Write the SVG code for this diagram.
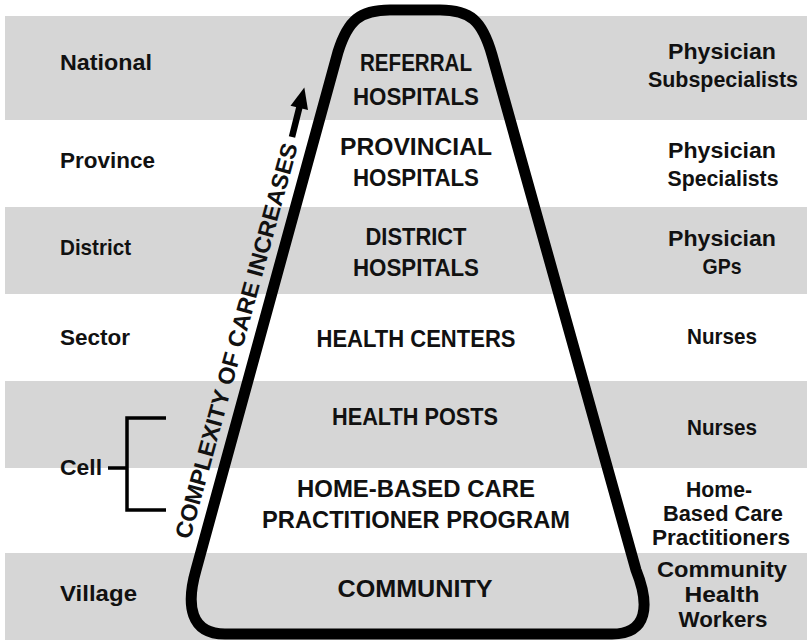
<svg xmlns="http://www.w3.org/2000/svg" width="807" height="642" viewBox="0 0 807 642">
  <style>
    .band { fill: #d6d6d6; }
    .tier { font-family: "Liberation Sans", Arial, sans-serif; font-weight: bold; font-size: 24px; fill: #111; text-anchor: middle; }
    .level { font-family: "Liberation Sans", Arial, sans-serif; font-weight: bold; font-size: 22.5px; fill: #111; }
    .staff { font-family: "Liberation Sans", Arial, sans-serif; font-weight: bold; font-size: 22px; fill: #111; text-anchor: middle; }
    .axis { font-family: "Liberation Sans", Arial, sans-serif; font-weight: bold; font-size: 23px; fill: #111; }
    .outline { fill: none; stroke: #000; stroke-width: 11; stroke-linejoin: round; }
    .bracket { fill: none; stroke: #000; stroke-width: 3.5; }
  </style>

  <rect x="0" y="0" width="807" height="642" fill="#ffffff"/>

  <!-- alternating level bands -->
  <g id="bands">
    <rect class="band" x="5" y="16" width="802" height="104"/>
    <rect class="band" x="5" y="207" width="802" height="87"/>
    <rect class="band" x="5" y="381" width="802" height="87"/>
    <rect class="band" x="5" y="553" width="802" height="87"/>
  </g>

  <!-- pyramid outline -->
  <g id="pyramid">
    <path class="outline" d="M 338 52 L 196 570 C 186 605 190 634 225 634 L 612 634 C 648 634 650 605 636 570 L 492 55 C 482 20 470 10 440 10 L 390 10 C 360 10 348 20 338 52 Z"/>
  </g>

  <!-- tiers of care -->
  <g id="tier-referral">
    <text class="tier" x="416" y="71" textLength="112" lengthAdjust="spacingAndGlyphs">REFERRAL</text>
    <text class="tier" x="416" y="105" textLength="126" lengthAdjust="spacingAndGlyphs">HOSPITALS</text>
  </g>
  <g id="tier-provincial">
    <text class="tier" x="416" y="155" textLength="152" lengthAdjust="spacingAndGlyphs">PROVINCIAL</text>
    <text class="tier" x="416" y="186" textLength="126" lengthAdjust="spacingAndGlyphs">HOSPITALS</text>
  </g>
  <g id="tier-district">
    <text class="tier" x="416" y="245" textLength="101" lengthAdjust="spacingAndGlyphs">DISTRICT</text>
    <text class="tier" x="416" y="276" textLength="126" lengthAdjust="spacingAndGlyphs">HOSPITALS</text>
  </g>
  <g id="tier-health-centers">
    <text class="tier" x="416" y="347" textLength="199" lengthAdjust="spacingAndGlyphs">HEALTH CENTERS</text>
  </g>
  <g id="tier-health-posts">
    <text class="tier" x="415" y="425" textLength="166" lengthAdjust="spacingAndGlyphs">HEALTH POSTS</text>
  </g>
  <g id="tier-home-based">
    <text class="tier" x="416" y="497" textLength="238" lengthAdjust="spacingAndGlyphs">HOME-BASED CARE</text>
    <text class="tier" x="416" y="528" textLength="308" lengthAdjust="spacingAndGlyphs">PRACTITIONER PROGRAM</text>
  </g>
  <g id="tier-community">
    <text class="tier" x="415" y="597" textLength="155" lengthAdjust="spacingAndGlyphs">COMMUNITY</text>
  </g>

  <!-- administrative levels -->
  <g id="level-national"><text class="level" x="60" y="70" textLength="92" lengthAdjust="spacingAndGlyphs">National</text></g>
  <g id="level-province"><text class="level" x="60" y="168" textLength="95" lengthAdjust="spacingAndGlyphs">Province</text></g>
  <g id="level-district"><text class="level" x="60" y="255" textLength="71" lengthAdjust="spacingAndGlyphs">District</text></g>
  <g id="level-sector"><text class="level" x="60" y="345" textLength="70" lengthAdjust="spacingAndGlyphs">Sector</text></g>
  <g id="level-cell"><text class="level" x="60" y="475" textLength="42" lengthAdjust="spacingAndGlyphs">Cell</text></g>
  <g id="level-village"><text class="level" x="60" y="601" textLength="77" lengthAdjust="spacingAndGlyphs">Village</text></g>

  <!-- staffing per tier -->
  <g id="staff-subspecialists">
    <text class="staff" x="722" y="59" textLength="108" lengthAdjust="spacingAndGlyphs">Physician</text>
    <text class="staff" x="723" y="87" textLength="150" lengthAdjust="spacingAndGlyphs">Subspecialists</text>
  </g>
  <g id="staff-specialists">
    <text class="staff" x="722" y="158" textLength="108" lengthAdjust="spacingAndGlyphs">Physician</text>
    <text class="staff" x="723" y="186" textLength="111" lengthAdjust="spacingAndGlyphs">Specialists</text>
  </g>
  <g id="staff-gps">
    <text class="staff" x="722" y="246" textLength="108" lengthAdjust="spacingAndGlyphs">Physician</text>
    <text class="staff" x="722" y="274" textLength="39" lengthAdjust="spacingAndGlyphs">GPs</text>
  </g>
  <g id="staff-nurses-sector"><text class="staff" x="722" y="344" textLength="70" lengthAdjust="spacingAndGlyphs">Nurses</text></g>
  <g id="staff-nurses-cell"><text class="staff" x="722" y="435" textLength="70" lengthAdjust="spacingAndGlyphs">Nurses</text></g>
  <g id="staff-home-based">
    <text class="staff" x="719" y="497" textLength="66" lengthAdjust="spacingAndGlyphs">Home-</text>
    <text class="staff" x="723" y="521" textLength="120" lengthAdjust="spacingAndGlyphs">Based Care</text>
    <text class="staff" x="721" y="545" textLength="138" lengthAdjust="spacingAndGlyphs">Practitioners</text>
  </g>
  <g id="staff-chw">
    <text class="staff" x="722" y="577" textLength="130" lengthAdjust="spacingAndGlyphs">Community</text>
    <text class="staff" x="722" y="602" textLength="75" lengthAdjust="spacingAndGlyphs">Health</text>
    <text class="staff" x="723" y="627" textLength="89" lengthAdjust="spacingAndGlyphs">Workers</text>
  </g>

  <!-- connectors: cell bracket and complexity arrow -->
  <g id="connectors">
    <path class="bracket" d="M 166 418 L 127 418 L 127 510 L 166 510 M 108 468 L 127 468"/>
    <g transform="translate(292,137) rotate(-76)">
      <line x1="0" y1="0" x2="32" y2="0" stroke="#000" stroke-width="6.5"/>
      <polygon points="30,-9 51,0 30,9" fill="#000"/>
    </g>
  </g>

  <g id="complexity-label">
    <text class="axis" transform="translate(190,540) rotate(-74.7)" textLength="409" lengthAdjust="spacingAndGlyphs">COMPLEXITY OF CARE INCREASES</text>
  </g>
</svg>
